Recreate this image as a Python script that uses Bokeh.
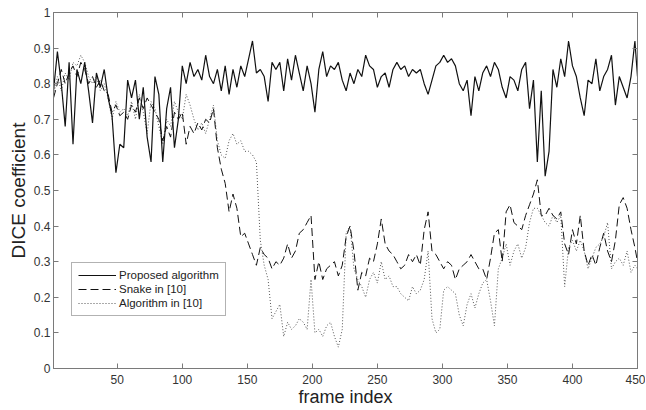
from bokeh.plotting import figure
from bokeh.models import Legend, LegendItem, LinearAxis, FixedTicker, Range1d, CustomJSTickFormatter
from bokeh.embed import file_html
from bokeh.resources import INLINE

frames = list(range(1, 449, 3)) + [450]

proposed = [
    0.78, 0.89, 0.80, 0.68, 0.86, 0.63, 0.84, 0.80, 0.86, 0.78,
    0.69, 0.83, 0.79, 0.84, 0.76, 0.71, 0.55, 0.63, 0.62, 0.81,
    0.76, 0.81, 0.70, 0.79, 0.65, 0.58, 0.82, 0.77, 0.58, 0.73,
    0.79, 0.62, 0.70, 0.85, 0.80, 0.86, 0.82, 0.84, 0.81, 0.88,
    0.82, 0.80, 0.84, 0.78, 0.85, 0.77, 0.84, 0.79, 0.85, 0.82,
    0.87, 0.92, 0.83, 0.84, 0.82, 0.75, 0.86, 0.84, 0.86, 0.78,
    0.87, 0.81, 0.88, 0.83, 0.78, 0.85, 0.80, 0.72, 0.84, 0.89,
    0.82, 0.85, 0.84, 0.86, 0.81, 0.78, 0.83, 0.80, 0.84, 0.82,
    0.88, 0.85, 0.84, 0.79, 0.82, 0.83, 0.79, 0.84, 0.86, 0.84,
    0.85, 0.82, 0.84, 0.83, 0.84, 0.80, 0.77, 0.81, 0.85, 0.86,
    0.88, 0.86, 0.87, 0.85, 0.80, 0.78, 0.81, 0.71, 0.82, 0.78,
    0.83, 0.85, 0.82, 0.86, 0.84, 0.79, 0.76, 0.82, 0.81, 0.78,
    0.84, 0.86, 0.73, 0.81, 0.58, 0.78, 0.54, 0.61, 0.84, 0.79,
    0.87, 0.82, 0.92, 0.85, 0.82, 0.76, 0.71, 0.81, 0.80, 0.87,
    0.78, 0.82, 0.84, 0.88, 0.74, 0.82, 0.79, 0.76, 0.82, 0.92,
    0.82,
]

snake = [
    0.76, 0.80, 0.84, 0.80, 0.83, 0.85, 0.82, 0.86, 0.84, 0.80,
    0.82, 0.79, 0.81, 0.78, 0.77, 0.72, 0.74, 0.71, 0.72, 0.70,
    0.74, 0.72, 0.76, 0.73, 0.76, 0.74, 0.72, 0.70, 0.64, 0.68,
    0.65, 0.72, 0.70, 0.72, 0.63, 0.68, 0.66, 0.69, 0.67, 0.70,
    0.69, 0.73, 0.62, 0.56, 0.52, 0.44, 0.49, 0.45, 0.37, 0.38,
    0.35, 0.32, 0.29, 0.34, 0.32, 0.31, 0.28, 0.30, 0.29, 0.31,
    0.35, 0.31, 0.33, 0.38, 0.39, 0.41, 0.43, 0.25, 0.30, 0.25,
    0.28, 0.29, 0.30, 0.26, 0.29, 0.37, 0.40, 0.33, 0.22, 0.27,
    0.26, 0.31, 0.30, 0.35, 0.42, 0.35, 0.33, 0.32, 0.30, 0.28,
    0.29, 0.32, 0.30, 0.32, 0.29, 0.39, 0.44, 0.33, 0.32, 0.30,
    0.28, 0.30, 0.29, 0.25, 0.28, 0.29, 0.30, 0.32, 0.30, 0.28,
    0.28, 0.25, 0.31, 0.38, 0.39, 0.30, 0.44, 0.46, 0.41, 0.40,
    0.39, 0.43, 0.46, 0.49, 0.53, 0.43, 0.43, 0.45, 0.43, 0.42,
    0.44, 0.35, 0.32, 0.39, 0.35, 0.43, 0.33, 0.29, 0.32, 0.29,
    0.34, 0.38, 0.33, 0.30, 0.36, 0.46, 0.48, 0.45, 0.39, 0.34,
    0.30,
]

algorithm10 = [
    0.77, 0.82, 0.78, 0.83, 0.81, 0.86, 0.85, 0.88, 0.86, 0.82,
    0.80, 0.82, 0.78, 0.80, 0.76, 0.70, 0.75, 0.72, 0.73, 0.71,
    0.75, 0.70, 0.77, 0.72, 0.66, 0.75, 0.73, 0.68, 0.63, 0.70,
    0.68, 0.75, 0.72, 0.70, 0.77, 0.74, 0.70, 0.67, 0.69, 0.66,
    0.70, 0.74, 0.64, 0.60, 0.59, 0.64, 0.66, 0.63, 0.64, 0.61,
    0.61, 0.60, 0.58, 0.36, 0.29, 0.25, 0.14, 0.16, 0.18, 0.09,
    0.13, 0.11, 0.12, 0.14, 0.13, 0.11, 0.25, 0.10, 0.11, 0.09,
    0.12, 0.13, 0.09, 0.06, 0.11, 0.38, 0.40, 0.28, 0.25, 0.23,
    0.20, 0.25, 0.27, 0.24, 0.30, 0.25, 0.26, 0.23, 0.23, 0.21,
    0.20, 0.19, 0.23, 0.21, 0.22, 0.25, 0.33, 0.14, 0.10, 0.11,
    0.22, 0.23, 0.22, 0.21, 0.15, 0.12, 0.18, 0.21, 0.17, 0.21,
    0.24, 0.25, 0.19, 0.12, 0.28, 0.31, 0.35, 0.29, 0.33, 0.35,
    0.31, 0.34, 0.41, 0.45, 0.45, 0.43, 0.41, 0.40, 0.43, 0.41,
    0.43, 0.23, 0.34, 0.36, 0.33, 0.36, 0.33, 0.28, 0.31, 0.34,
    0.35, 0.37, 0.41, 0.28, 0.30, 0.31, 0.29, 0.33, 0.27, 0.29,
    0.28,
]

x_ticks = [50, 100, 150, 200, 250, 300, 350, 400, 450]
y_ticks = [0, 0.1, 0.2, 0.3, 0.4, 0.5, 0.6, 0.7, 0.8, 0.9, 1]
y_tick_labels = {0: "0", 1: "1"}

FONT = "Liberation Sans"
AX = "#7a7a7a"

p = figure(frame_width=584, frame_height=356, x_range=Range1d(1, 450), y_range=Range1d(0, 1),
           output_backend="svg", toolbar_location=None,
           min_border_left=53, min_border_right=8, min_border_top=12, min_border_bottom=38)
p.xgrid.visible = False
p.ygrid.visible = False
p.outline_line_color = AX
p.background_fill_color = "white"

r3 = p.line(frames, algorithm10, line_color="#555555", line_width=1, line_dash="1 2")
r2 = p.line(frames, snake, line_color="#111111", line_width=1, line_dash="8 4")
r1 = p.line(frames, proposed, line_color="#111111", line_width=1.2)


def style(ax, labels=True):
    ax.axis_line_color = AX
    ax.major_tick_line_color = AX
    ax.major_tick_in = 5
    ax.major_tick_out = 0
    ax.minor_tick_in = 0
    ax.minor_tick_out = 0
    ax.minor_tick_line_color = None
    if labels:
        ax.major_label_text_font = FONT
        ax.major_label_text_font_size = "12px"
        ax.major_label_text_color = "#333333"
    else:
        ax.formatter = CustomJSTickFormatter(code="return ''")
        ax.major_label_text_font_size = "0px"
        ax.major_label_standoff = 0


p.xaxis.ticker = FixedTicker(ticks=x_ticks)
p.yaxis.ticker = FixedTicker(ticks=y_ticks)
p.yaxis.major_label_overrides = y_tick_labels
style(p.xaxis[0])
style(p.yaxis[0])
p.xaxis.major_label_standoff = 6
p.yaxis.major_label_standoff = 3
p.xaxis.axis_label = "frame index"
p.yaxis.axis_label = "DICE coefficient"
for ax in (p.xaxis[0], p.yaxis[0]):
    ax.axis_label_text_font = FONT
    ax.axis_label_text_font_style = "normal"
    ax.axis_label_text_color = "#222222"
p.xaxis.axis_label_text_font_size = "18px"
p.yaxis.axis_label_text_font_size = "19px"
p.xaxis.axis_label_standoff = 0
p.yaxis.axis_label_standoff = 2

top = LinearAxis(ticker=FixedTicker(ticks=x_ticks))
style(top, labels=False)
p.add_layout(top, "above")
right = LinearAxis(ticker=FixedTicker(ticks=y_ticks))
style(right, labels=False)
p.add_layout(right, "right")

legend = Legend(items=[
    LegendItem(label="Proposed algorithm", renderers=[r1]),
    LegendItem(label="Snake in [10]", renderers=[r2]),
    LegendItem(label="Algorithm in [10]", renderers=[r3]),
], location=(18, 52))
legend.margin = 0
legend.padding = 6
legend.spacing = 2
legend.glyph_width = 38
legend.glyph_height = 12
legend.label_height = 12
legend.label_standoff = 3
legend.label_text_font = FONT
legend.label_text_font_size = "11.5px"
legend.label_text_color = "#222222"
legend.border_line_color = "#666666"
legend.border_line_width = 1
legend.background_fill_color = "white"
legend.background_fill_alpha = 1
p.add_layout(legend)

open("out.html", "w").write(file_html(p, INLINE))
